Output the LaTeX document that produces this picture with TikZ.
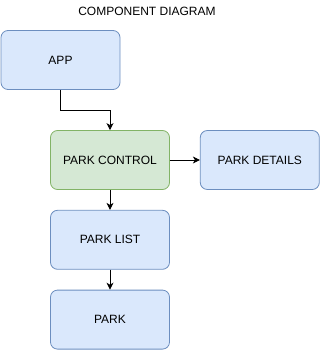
\documentclass[tikz,border=0pt]{standalone}
\usepackage{fontspec}
\setmainfont{Liberation Sans}
\usetikzlibrary{arrows.meta,positioning}
\usepackage{xcolor}
\definecolor{azulrelleno}{HTML}{DAE8FC}
\definecolor{azulborde}{HTML}{6C8EBF}
\definecolor{verderelleno}{HTML}{D5E8D4}
\definecolor{verdeborde}{HTML}{82B366}

\begin{document}
\begin{tikzpicture}[
  x=1pt, y=-1pt,
  node distance=20pt,
  caja/.style={rectangle, rounded corners=7pt, draw=azulborde, fill=azulrelleno, line width=0.8pt, align=center, minimum width=119pt, minimum height=59pt, font=\fontsize{12}{14}\selectfont},
  cajaverde/.style={caja, draw=verdeborde, fill=verderelleno},
  flecha/.style={-{Stealth[length=7pt, width=7pt, inset=2pt]}, line width=0.8pt}
]
\useasboundingbox (0,0) rectangle (321,351);
\node[font=\fontsize{12}{14}\selectfont] (titulo) at (147,11) {COMPONENT DIAGRAM};
\node[caja] (app) at (60.5,60) {APP};
\node[cajaverde] (control) at (110,160) {PARK CONTROL};
\node[caja, right=30pt of control] (detalles) {PARK DETAILS};
\node[caja, below=of control] (lista) {PARK LIST};
\node[caja, below=of lista] (parque) {PARK};
\draw[flecha] (app.south) |- (control.north |- 0,110) -- (control.north);
\draw[flecha] (control) -- (detalles);
\draw[flecha] (control) -- (lista);
\draw[flecha] (lista) -- (parque);
\end{tikzpicture}
\end{document}
